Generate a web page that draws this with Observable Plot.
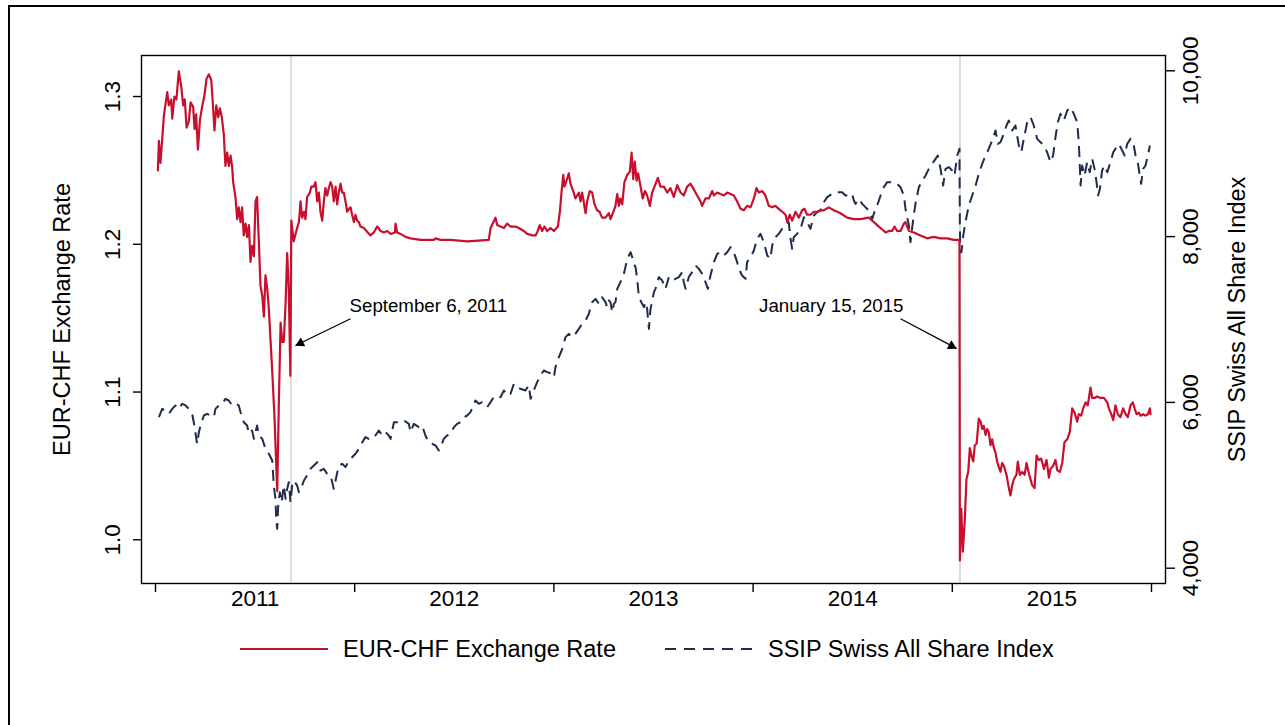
<!DOCTYPE html>
<html><head><meta charset="utf-8">
<script src="https://cdn.jsdelivr.net/npm/d3@7"></script>
<script src="https://cdn.jsdelivr.net/npm/@observablehq/plot@0.6"></script>
<style>
html,body{margin:0;padding:0;background:#fff;overflow:hidden;}
body{width:1285px;height:725px;position:relative;font-family:"Liberation Sans",Arial,Helvetica,sans-serif;}
#border{position:absolute;left:8px;top:5px;width:1400px;height:800px;border:2px solid #000;box-sizing:border-box;}
#chart{position:absolute;left:0;top:0;}
.lg{position:absolute;top:637px;height:24px;line-height:24px;font-size:23.5px;color:#000;white-space:nowrap;}
.lgs{position:absolute;top:637px;}
</style></head>
<body>
<div id="border"></div>
<div id="chart"></div>
<svg class="lgs" style="left:240px" width="90" height="24"><line x1="0" x2="88" y1="12" y2="12" stroke="#c8102e" stroke-width="2.2"/></svg>
<div class="lg" style="left:343px">EUR-CHF Exchange Rate</div>
<svg class="lgs" style="left:665px" width="90" height="24"><line x1="0" x2="87" y1="12" y2="12" stroke="#1f2c4c" stroke-width="2.2" stroke-dasharray="11,8"/></svg>
<div class="lg" style="left:768px">SSIP Swiss All Share Index</div>
<script>
// ---- Data (decimal year, value) ----
const eurChf = [[2011.012,1.250],[2011.017,1.270],[2011.025,1.255],[2011.042,1.287],[2011.059,1.303],[2011.067,1.294],[2011.079,1.298],[2011.084,1.285],[2011.095,1.300],[2011.105,1.298],[2011.117,1.317],[2011.129,1.307],[2011.139,1.294],[2011.147,1.298],[2011.156,1.279],[2011.167,1.283],[2011.176,1.296],[2011.189,1.293],[2011.196,1.278],[2011.204,1.288],[2011.213,1.264],[2011.223,1.284],[2011.234,1.293],[2011.246,1.301],[2011.256,1.312],[2011.268,1.315],[2011.280,1.311],[2011.286,1.299],[2011.296,1.277],[2011.305,1.294],[2011.315,1.286],[2011.323,1.292],[2011.333,1.286],[2011.343,1.274],[2011.351,1.253],[2011.360,1.262],[2011.368,1.253],[2011.377,1.260],[2011.385,1.252],[2011.390,1.242],[2011.402,1.231],[2011.410,1.217],[2011.418,1.225],[2011.427,1.215],[2011.435,1.225],[2011.443,1.206],[2011.452,1.214],[2011.460,1.205],[2011.469,1.213],[2011.477,1.188],[2011.485,1.199],[2011.494,1.192],[2011.502,1.229],[2011.510,1.232],[2011.519,1.201],[2011.527,1.172],[2011.536,1.165],[2011.544,1.151],[2011.552,1.179],[2011.561,1.170],[2011.569,1.156],[2011.586,1.114],[2011.597,1.084],[2011.611,1.033],[2011.619,1.091],[2011.628,1.147],[2011.636,1.134],[2011.644,1.134],[2011.653,1.160],[2011.661,1.194],[2011.669,1.170],[2011.677,1.111],[2011.682,1.216],[2011.694,1.202],[2011.705,1.208],[2011.711,1.211],[2011.720,1.215],[2011.728,1.229],[2011.736,1.218],[2011.745,1.222],[2011.753,1.217],[2011.761,1.232],[2011.775,1.235],[2011.782,1.239],[2011.795,1.239],[2011.803,1.242],[2011.812,1.229],[2011.820,1.235],[2011.828,1.222],[2011.837,1.216],[2011.845,1.229],[2011.853,1.238],[2011.862,1.233],[2011.870,1.238],[2011.879,1.242],[2011.887,1.239],[2011.895,1.229],[2011.904,1.239],[2011.912,1.227],[2011.920,1.235],[2011.929,1.241],[2011.937,1.235],[2011.945,1.235],[2011.954,1.229],[2011.962,1.222],[2011.971,1.224],[2011.979,1.225],[2011.987,1.220],[2011.996,1.215],[2012.004,1.220],[2012.012,1.216],[2012.021,1.215],[2012.029,1.212],[2012.046,1.211],[2012.079,1.206],[2012.096,1.208],[2012.113,1.212],[2012.130,1.209],[2012.146,1.208],[2012.163,1.209],[2012.180,1.207],[2012.202,1.208],[2012.205,1.214],[2012.213,1.208],[2012.230,1.207],[2012.255,1.205],[2012.280,1.204],[2012.330,1.203],[2012.397,1.203],[2012.406,1.204],[2012.431,1.203],[2012.481,1.203],[2012.565,1.202],[2012.673,1.203],[2012.682,1.211],[2012.707,1.218],[2012.715,1.213],[2012.732,1.212],[2012.749,1.211],[2012.765,1.214],[2012.782,1.212],[2012.807,1.212],[2012.824,1.211],[2012.849,1.209],[2012.866,1.207],[2012.891,1.206],[2012.908,1.206],[2012.919,1.209],[2012.929,1.213],[2012.941,1.209],[2012.953,1.212],[2012.966,1.209],[2012.983,1.211],[2013.000,1.209],[2013.020,1.212],[2013.030,1.222],[2013.038,1.235],[2013.047,1.247],[2013.053,1.239],[2013.063,1.243],[2013.075,1.248],[2013.083,1.241],[2013.097,1.236],[2013.108,1.231],[2013.125,1.235],[2013.134,1.229],[2013.142,1.235],[2013.159,1.221],[2013.167,1.229],[2013.180,1.236],[2013.192,1.235],[2013.204,1.227],[2013.217,1.223],[2013.229,1.222],[2013.242,1.218],[2013.259,1.218],[2013.276,1.221],[2013.284,1.217],[2013.296,1.221],[2013.309,1.226],[2013.318,1.234],[2013.326,1.226],[2013.334,1.231],[2013.343,1.227],[2013.354,1.242],[2013.368,1.247],[2013.381,1.249],[2013.390,1.262],[2013.398,1.244],[2013.406,1.256],[2013.415,1.243],[2013.423,1.248],[2013.435,1.239],[2013.446,1.231],[2013.457,1.236],[2013.468,1.233],[2013.482,1.226],[2013.493,1.235],[2013.502,1.238],[2013.522,1.245],[2013.535,1.239],[2013.552,1.239],[2013.569,1.235],[2013.585,1.238],[2013.602,1.232],[2013.619,1.240],[2013.636,1.235],[2013.652,1.233],[2013.669,1.239],[2013.686,1.241],[2013.699,1.238],[2013.719,1.233],[2013.736,1.229],[2013.744,1.226],[2013.761,1.231],[2013.778,1.231],[2013.795,1.236],[2013.803,1.233],[2013.820,1.235],[2013.836,1.234],[2013.853,1.233],[2013.870,1.235],[2013.887,1.234],[2013.903,1.233],[2013.920,1.229],[2013.937,1.224],[2013.953,1.223],[2013.970,1.226],[2013.987,1.225],[2014.004,1.231],[2014.017,1.238],[2014.029,1.235],[2014.046,1.236],[2014.062,1.233],[2014.079,1.226],[2014.096,1.225],[2014.112,1.226],[2014.129,1.224],[2014.146,1.222],[2014.163,1.220],[2014.171,1.215],[2014.184,1.220],[2014.196,1.216],[2014.213,1.222],[2014.230,1.218],[2014.246,1.223],[2014.258,1.224],[2014.271,1.220],[2014.288,1.220],[2014.305,1.222],[2014.322,1.222],[2014.338,1.223],[2014.355,1.223],[2014.380,1.225],[2014.405,1.223],[2014.439,1.221],[2014.472,1.218],[2014.506,1.217],[2014.539,1.217],[2014.581,1.218],[2014.598,1.216],[2014.623,1.213],[2014.648,1.210],[2014.665,1.208],[2014.681,1.209],[2014.698,1.209],[2014.710,1.212],[2014.723,1.209],[2014.740,1.209],[2014.757,1.214],[2014.765,1.215],[2014.782,1.209],[2014.807,1.208],[2014.840,1.206],[2014.874,1.204],[2014.907,1.205],[2014.941,1.204],[2014.974,1.204],[2015.008,1.203],[2015.036,1.203],[2015.038,0.986],[2015.045,1.021],[2015.053,0.992],[2015.063,1.014],[2015.071,1.041],[2015.080,1.046],[2015.088,1.062],[2015.096,1.057],[2015.105,1.053],[2015.113,1.064],[2015.122,1.065],[2015.133,1.082],[2015.142,1.080],[2015.150,1.075],[2015.158,1.077],[2015.167,1.071],[2015.175,1.075],[2015.183,1.073],[2015.192,1.064],[2015.200,1.068],[2015.209,1.062],[2015.217,1.059],[2015.225,1.053],[2015.234,1.049],[2015.242,1.046],[2015.250,1.052],[2015.259,1.050],[2015.272,1.044],[2015.284,1.035],[2015.292,1.030],[2015.301,1.037],[2015.309,1.041],[2015.322,1.044],[2015.329,1.053],[2015.339,1.044],[2015.351,1.046],[2015.363,1.044],[2015.373,1.052],[2015.384,1.045],[2015.401,1.037],[2015.413,1.035],[2015.423,1.057],[2015.434,1.054],[2015.446,1.055],[2015.460,1.048],[2015.473,1.054],[2015.485,1.042],[2015.493,1.048],[2015.506,1.050],[2015.518,1.054],[2015.527,1.047],[2015.540,1.046],[2015.552,1.052],[2015.563,1.066],[2015.577,1.068],[2015.590,1.073],[2015.602,1.089],[2015.614,1.086],[2015.627,1.080],[2015.635,1.085],[2015.647,1.084],[2015.657,1.089],[2015.669,1.093],[2015.680,1.091],[2015.694,1.103],[2015.702,1.096],[2015.714,1.096],[2015.727,1.097],[2015.744,1.096],[2015.761,1.096],[2015.778,1.093],[2015.786,1.089],[2015.798,1.085],[2015.808,1.081],[2015.819,1.091],[2015.831,1.085],[2015.844,1.083],[2015.858,1.089],[2015.870,1.085],[2015.881,1.083],[2015.895,1.091],[2015.906,1.093],[2015.915,1.089],[2015.925,1.085],[2015.937,1.086],[2015.945,1.084],[2015.958,1.085],[2015.970,1.084],[2015.982,1.085],[2015.992,1.089],[2015.995,1.085]];

const ssip = [[2011.017,5822],[2011.034,5922],[2011.050,5902],[2011.067,5862],[2011.084,5922],[2011.100,5963],[2011.117,5922],[2011.134,5983],[2011.151,5963],[2011.167,5922],[2011.184,5862],[2011.192,5761],[2011.209,5500],[2011.218,5641],[2011.226,5721],[2011.243,5842],[2011.259,5862],[2011.276,5842],[2011.293,5822],[2011.301,5922],[2011.318,5963],[2011.335,5983],[2011.351,6043],[2011.368,6023],[2011.385,5963],[2011.402,5983],[2011.418,5963],[2011.427,5882],[2011.443,5761],[2011.460,5721],[2011.469,5621],[2011.485,5661],[2011.494,5560],[2011.510,5721],[2011.519,5601],[2011.536,5560],[2011.544,5500],[2011.552,5440],[2011.569,5380],[2011.586,5299],[2011.594,4997],[2011.602,4837],[2011.607,4555],[2011.611,4475],[2011.616,4756],[2011.624,4917],[2011.633,4796],[2011.644,4997],[2011.653,4837],[2011.661,4957],[2011.669,5038],[2011.678,4796],[2011.686,4997],[2011.694,5058],[2011.711,4997],[2011.720,4917],[2011.736,4997],[2011.745,5058],[2011.761,5118],[2011.778,5199],[2011.795,5239],[2011.812,5279],[2011.820,5219],[2011.828,5178],[2011.845,5199],[2011.862,5138],[2011.879,5118],[2011.895,4957],[2011.904,5058],[2011.920,5239],[2011.937,5259],[2011.954,5219],[2011.971,5299],[2011.987,5339],[2012.004,5380],[2012.021,5440],[2012.038,5520],[2012.054,5581],[2012.071,5560],[2012.088,5601],[2012.104,5601],[2012.121,5661],[2012.138,5601],[2012.155,5641],[2012.171,5601],[2012.180,5560],[2012.197,5761],[2012.213,5761],[2012.230,5782],[2012.247,5782],[2012.272,5741],[2012.280,5641],[2012.297,5741],[2012.322,5701],[2012.339,5721],[2012.355,5601],[2012.372,5520],[2012.389,5500],[2012.406,5480],[2012.422,5420],[2012.431,5460],[2012.447,5560],[2012.464,5601],[2012.481,5621],[2012.498,5701],[2012.514,5741],[2012.531,5761],[2012.548,5822],[2012.565,5842],[2012.581,5882],[2012.606,6023],[2012.623,5983],[2012.640,6003],[2012.665,5943],[2012.682,6003],[2012.698,6063],[2012.715,6083],[2012.732,6063],[2012.749,6144],[2012.765,6083],[2012.782,6103],[2012.799,6224],[2012.816,6184],[2012.832,6164],[2012.857,6144],[2012.874,6204],[2012.883,6043],[2012.899,6144],[2012.916,6244],[2012.933,6325],[2012.949,6385],[2012.966,6365],[2012.991,6345],[2013.000,6304],[2013.008,6425],[2013.025,6546],[2013.042,6646],[2013.058,6787],[2013.075,6827],[2013.092,6787],[2013.108,6827],[2013.125,6887],[2013.142,6948],[2013.159,6988],[2013.175,7068],[2013.192,7209],[2013.209,7249],[2013.226,7189],[2013.242,7269],[2013.259,7209],[2013.267,7149],[2013.276,7229],[2013.284,7209],[2013.293,7088],[2013.301,7189],[2013.309,7209],[2013.318,7370],[2013.334,7450],[2013.351,7551],[2013.359,7631],[2013.368,7732],[2013.385,7812],[2013.396,7732],[2013.401,7671],[2013.410,7631],[2013.418,7491],[2013.426,7289],[2013.435,7229],[2013.443,7189],[2013.452,7149],[2013.460,7209],[2013.468,7129],[2013.477,6887],[2013.485,7129],[2013.493,7209],[2013.502,7330],[2013.510,7370],[2013.527,7511],[2013.544,7470],[2013.560,7370],[2013.577,7511],[2013.594,7470],[2013.610,7491],[2013.627,7511],[2013.644,7571],[2013.652,7450],[2013.661,7370],[2013.677,7511],[2013.694,7571],[2013.711,7651],[2013.728,7611],[2013.744,7551],[2013.761,7450],[2013.773,7370],[2013.786,7531],[2013.803,7692],[2013.820,7792],[2013.836,7812],[2013.853,7772],[2013.870,7812],[2013.887,7873],[2013.903,7812],[2013.920,7692],[2013.928,7611],[2013.945,7531],[2013.962,7491],[2013.970,7692],[2013.987,7752],[2014.004,7832],[2014.020,7973],[2014.037,8033],[2014.054,7933],[2014.071,7772],[2014.087,7732],[2014.096,7893],[2014.112,7993],[2014.129,8033],[2014.146,8094],[2014.163,8154],[2014.179,8174],[2014.188,7973],[2014.196,7853],[2014.204,7993],[2014.221,8033],[2014.238,8094],[2014.255,8234],[2014.271,8174],[2014.288,8094],[2014.305,8255],[2014.322,8295],[2014.338,8315],[2014.355,8415],[2014.372,8476],[2014.397,8516],[2014.414,8516],[2014.430,8536],[2014.447,8536],[2014.464,8496],[2014.481,8496],[2014.497,8516],[2014.506,8435],[2014.514,8395],[2014.531,8455],[2014.548,8395],[2014.564,8355],[2014.581,8315],[2014.598,8214],[2014.606,8275],[2014.623,8375],[2014.640,8496],[2014.656,8596],[2014.673,8657],[2014.690,8657],[2014.707,8637],[2014.723,8637],[2014.740,8596],[2014.757,8496],[2014.765,8335],[2014.782,8134],[2014.790,7933],[2014.804,8214],[2014.815,8395],[2014.832,8596],[2014.849,8677],[2014.866,8737],[2014.882,8817],[2014.899,8878],[2014.916,8938],[2014.927,8978],[2014.941,8817],[2014.954,8616],[2014.966,8817],[2014.983,8838],[2014.999,8797],[2015.011,8737],[2015.025,8978],[2015.036,9059],[2015.038,8094],[2015.041,7812],[2015.046,7812],[2015.055,8013],[2015.066,8174],[2015.083,8375],[2015.100,8496],[2015.117,8616],[2015.133,8757],[2015.150,8878],[2015.167,8978],[2015.183,9059],[2015.200,9159],[2015.217,9280],[2015.229,9119],[2015.242,9139],[2015.259,9240],[2015.272,9340],[2015.284,9400],[2015.301,9280],[2015.317,9340],[2015.334,9099],[2015.346,9018],[2015.359,9179],[2015.376,9380],[2015.393,9441],[2015.409,9340],[2015.426,9179],[2015.443,9139],[2015.460,9099],[2015.476,9018],[2015.493,8898],[2015.506,8978],[2015.518,9199],[2015.530,9380],[2015.543,9481],[2015.560,9400],[2015.577,9521],[2015.593,9561],[2015.610,9481],[2015.627,9380],[2015.635,9139],[2015.640,8858],[2015.644,8616],[2015.652,8858],[2015.664,8737],[2015.677,8898],[2015.690,8777],[2015.702,8938],[2015.714,8817],[2015.724,8657],[2015.732,8496],[2015.741,8576],[2015.752,8797],[2015.764,8858],[2015.778,8777],[2015.794,8898],[2015.808,9018],[2015.819,9059],[2015.836,9119],[2015.853,9039],[2015.865,8978],[2015.878,9119],[2015.895,9179],[2015.911,9099],[2015.920,8978],[2015.931,8898],[2015.941,8737],[2015.948,8637],[2015.958,8817],[2015.970,8858],[2015.982,8978],[2015.992,9099]];

const eurTicks = [1.0, 1.1, 1.2, 1.3];
const ssipTicks = [4000, 6000, 8000, 10000];
const yearTicks = [2011, 2012, 2013, 2014, 2015, 2016];
const yearLabels = [2011, 2012, 2013, 2014, 2015];
const events = [2011.6795, 2015.0384];  // Sep 6 2011, Jan 15 2015
const notes = [
  {label: "September 6, 2011", tx: 2011.974, ty: 1.1579, anchor: "start", x1: 2011.979, y1: 1.1496, x2: 2011.7028, y2: 1.1315, hx: 2011.7279, hy: 1.1331, rot: -116},
  {label: "January 15, 2015", tx: 2014.755, ty: 1.1579, anchor: "end", x1: 2014.740, y1: 1.1496, x2: 2015.0211, y2: 1.1295, hx: 2014.9965, hy: 1.1312, rot: 118}
];

const RED = "#c8102e", NAVY = "#1f2c4c";
const eurDomain = [0.97043, 1.32775];
const ssipDomain = [3815.4, 10184.6];
const toEur = d3.scaleLinear().domain(ssipDomain).range(eurDomain);

const FONT = "'Liberation Sans', Arial, Helvetica, sans-serif";

const chart = Plot.plot({
  width: 1285, height: 620,
  marginLeft: 141, marginRight: 120, marginTop: 55, marginBottom: 37,
  style: {fontFamily: FONT, fontSize: "22px", color: "#000", background: "transparent", overflow: "visible"},
  x: {type: "linear", domain: [2010.9297, 2016.0703], axis: null},
  y: {domain: eurDomain, axis: null},
  marks: [
    Plot.ruleX(events, {x: d => d, stroke: "#dcdcdc", strokeWidth: 2}),
    Plot.line(ssip, {x: d => d[0], y: d => toEur(d[1]), stroke: NAVY, strokeWidth: 2, strokeDasharray: "11,7", strokeLinecap: "butt"}),
    Plot.line(eurChf, {x: d => d[0], y: d => d[1], stroke: RED, strokeWidth: 2.2}),
    Plot.frame({stroke: "#000", strokeWidth: 1.4}),
    Plot.axisY(eurTicks, {anchor: "left", tickSize: 8, tickFormat: () => "", strokeWidth: 1.4, label: null}),
    Plot.axisY(ssipTicks.map(d => toEur(d)), {anchor: "right", tickSize: 9, tickFormat: () => "", strokeWidth: 1.4, label: null}),
    Plot.axisX(yearTicks, {anchor: "bottom", tickSize: 9, tickFormat: () => "", strokeWidth: 1.4, label: null}),
    Plot.text(eurTicks, {y: d => d, text: d => d.toFixed(1), frameAnchor: "left", dx: -29, rotate: -90, fontSize: 22.5, textAnchor: "middle", lineAnchor: "middle"}),
    Plot.text(ssipTicks, {y: d => toEur(d), text: d => d3.format(",")(d), frameAnchor: "right", dx: 25, rotate: -90, fontSize: 22.5, textAnchor: "middle", lineAnchor: "middle"}),
    Plot.text(yearLabels, {x: d => d + 0.5, text: d => String(d), frameAnchor: "bottom", dy: 15, fontSize: 22.5, textAnchor: "middle", lineAnchor: "middle"}),
    Plot.text(["EUR-CHF Exchange Rate"], {frameAnchor: "left", dx: -79, rotate: -90, fontSize: 23.5, textAnchor: "middle", lineAnchor: "middle"}),
    Plot.text(["SSIP Swiss All Share Index"], {frameAnchor: "right", dx: 72, rotate: -90, fontSize: 23.5, textAnchor: "middle", lineAnchor: "middle"}),
    Plot.text(notes.filter(n => n.anchor === "start"), {x: "tx", y: "ty", text: "label", textAnchor: "start", fontSize: 18.7}),
    Plot.text(notes.filter(n => n.anchor === "end"), {x: "tx", y: "ty", text: "label", textAnchor: "end", fontSize: 18.7}),
    Plot.link(notes, {x1: "x1", y1: "y1", x2: "x2", y2: "y2", stroke: "#000", strokeWidth: 1.3}),
    Plot.dot(notes, {x: "hx", y: "hy", symbol: "triangle", r: 3.7, fill: "#000", stroke: "none", rotate: "rot"})
  ]
});
document.getElementById("chart").appendChild(chart);
</script>
</body></html>
